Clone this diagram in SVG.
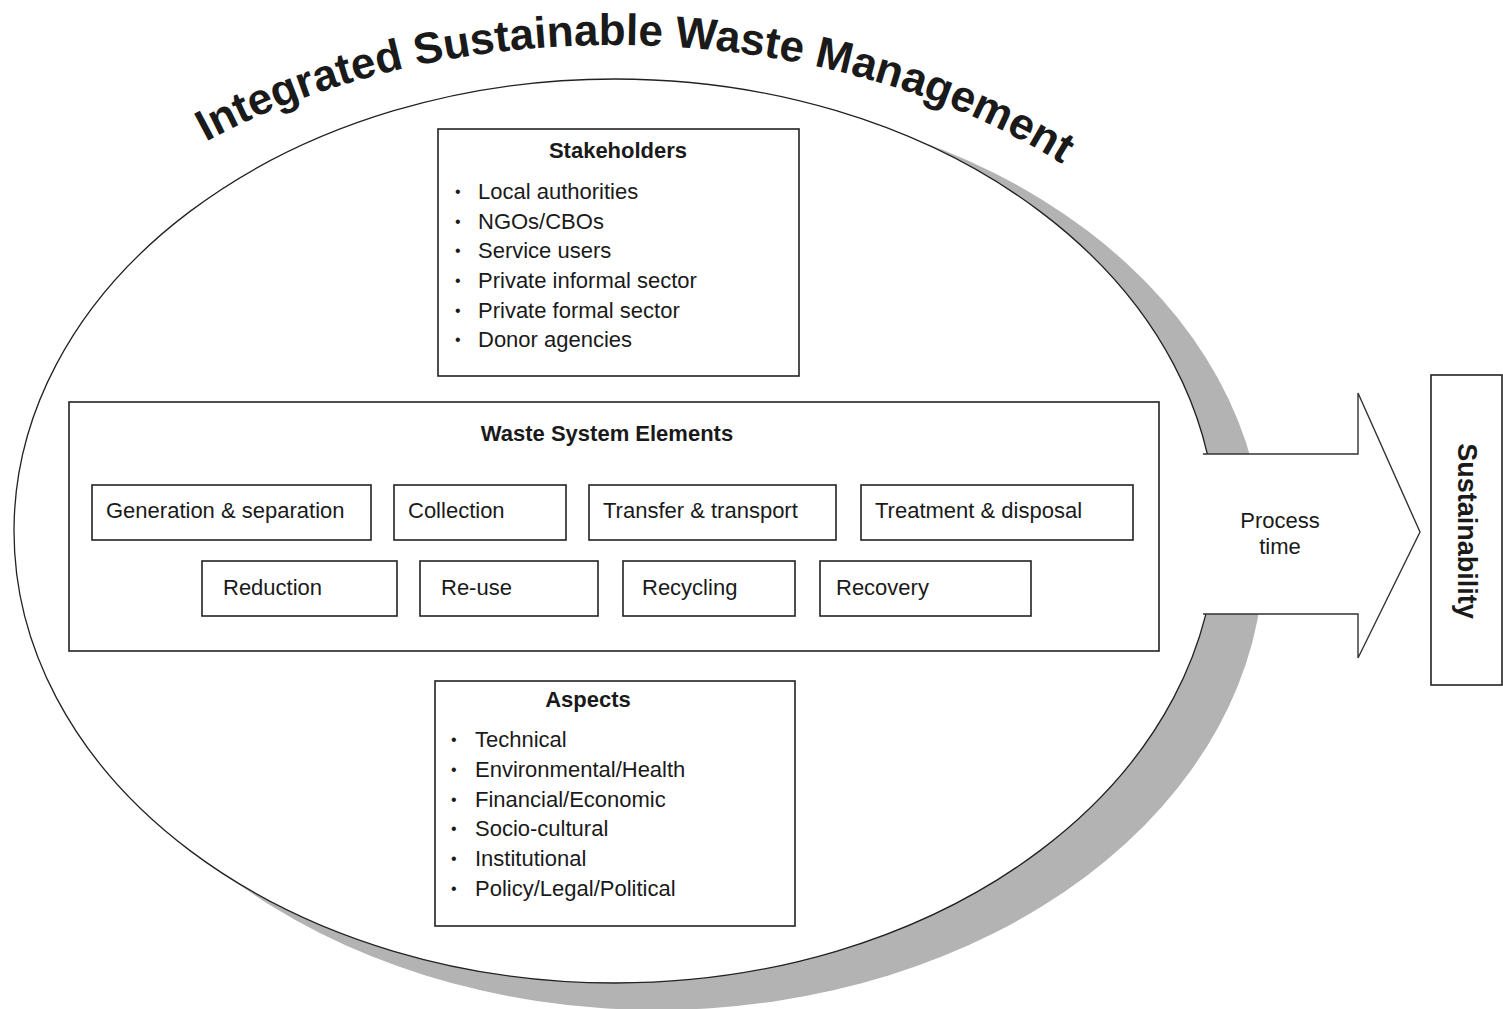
<svg xmlns="http://www.w3.org/2000/svg" width="1503" height="1009" viewBox="0 0 1503 1009">
<defs>
<style>
text{font-family:"Liberation Sans",Arial,sans-serif;fill:#1a1a1a}
.box{fill:#fff;stroke:#222;stroke-width:1.6}
.t{font-size:22px}
.h{font-size:22px;font-weight:bold}
.c{text-anchor:middle}
.bul{font-size:16px}
</style>
<path id="titleArc" d="M190,150.6 A650,434 0 0 1 1080,175.8" fill="none"/>
</defs>
<rect width="1503" height="1009" fill="#fff"/>
<g id="ellipse">
<ellipse cx="657" cy="553" rx="607" ry="457" fill="#b3b3b3"/>
<ellipse cx="615" cy="531" rx="601" ry="452" fill="#fff" stroke="#222" stroke-width="1.3"/>
</g>
<g id="title">
<text font-size="44" font-weight="bold" fill="#000"><textPath href="#titleArc" startOffset="18">Integrated Sustainable Waste Management</textPath></text>
</g>
<g id="connectors">
<polygon points="1190,454 1358,454 1358,393 1420,532 1358,658 1358,614 1190,614" fill="#fff" stroke="none"/>
<polyline points="1203,454 1358,454 1358,393 1420,532 1358,658 1358,614 1203,614" fill="none" stroke="#333" stroke-width="1.4"/>
<text class="t c" x="1280" y="528">Process</text>
<text class="t c" x="1280" y="554">time</text>
</g>
<g id="stakeholders">
<rect class="box" x="438" y="129" width="361" height="247"/>
<text class="h c" x="618" y="158">Stakeholders</text>
<text class="bul" x="455" y="197">•</text><text class="t" x="478" y="199">Local authorities</text>
<text class="bul" x="455" y="227">•</text><text class="t" x="478" y="229">NGOs/CBOs</text>
<text class="bul" x="455" y="256">•</text><text class="t" x="478" y="258">Service users</text>
<text class="bul" x="455" y="286">•</text><text class="t" x="478" y="288">Private informal sector</text>
<text class="bul" x="455" y="316">•</text><text class="t" x="478" y="318">Private formal sector</text>
<text class="bul" x="455" y="345">•</text><text class="t" x="478" y="347">Donor agencies</text>
</g>
<g id="waste-system-elements">
<rect class="box" x="69" y="402" width="1090" height="249"/>
<text class="h c" x="607" y="441">Waste System Elements</text>
</g>
<g id="generation">
<rect class="box" x="92" y="485" width="279" height="55"/>
<text class="t" x="106" y="518">Generation &amp; separation</text>
</g>
<g id="collection">
<rect class="box" x="394" y="485" width="172" height="55"/>
<text class="t" x="408" y="518">Collection</text>
</g>
<g id="transfer">
<rect class="box" x="589" y="485" width="247" height="55"/>
<text class="t" x="603" y="518">Transfer &amp; transport</text>
</g>
<g id="treatment">
<rect class="box" x="861" y="485" width="272" height="55"/>
<text class="t" x="875" y="518">Treatment &amp; disposal</text>
</g>
<g id="reduction">
<rect class="box" x="202" y="561" width="195" height="55"/>
<text class="t" x="223" y="595">Reduction</text>
</g>
<g id="reuse">
<rect class="box" x="420" y="561" width="178" height="55"/>
<text class="t" x="441" y="595">Re-use</text>
</g>
<g id="recycling">
<rect class="box" x="623" y="561" width="172" height="55"/>
<text class="t" x="642" y="595">Recycling</text>
</g>
<g id="recovery">
<rect class="box" x="820" y="561" width="211" height="55"/>
<text class="t" x="836" y="595">Recovery</text>
</g>
<g id="aspects">
<rect class="box" x="435" y="681" width="360" height="245"/>
<text class="h c" x="588" y="707">Aspects</text>
<text class="bul" x="451" y="745">•</text><text class="t" x="475" y="747">Technical</text>
<text class="bul" x="451" y="775">•</text><text class="t" x="475" y="777">Environmental/Health</text>
<text class="bul" x="451" y="805">•</text><text class="t" x="475" y="807">Financial/Economic</text>
<text class="bul" x="451" y="834">•</text><text class="t" x="475" y="836">Socio-cultural</text>
<text class="bul" x="451" y="864">•</text><text class="t" x="475" y="866">Institutional</text>
<text class="bul" x="451" y="894">•</text><text class="t" x="475" y="896">Policy/Legal/Political</text>
</g>
<g id="sustainability">
<rect class="box" x="1431" y="375" width="71" height="310"/>
<text font-size="27" font-weight="bold" text-anchor="middle" transform="translate(1458,531) rotate(90)">Sustainability</text>
</g>
</svg>
